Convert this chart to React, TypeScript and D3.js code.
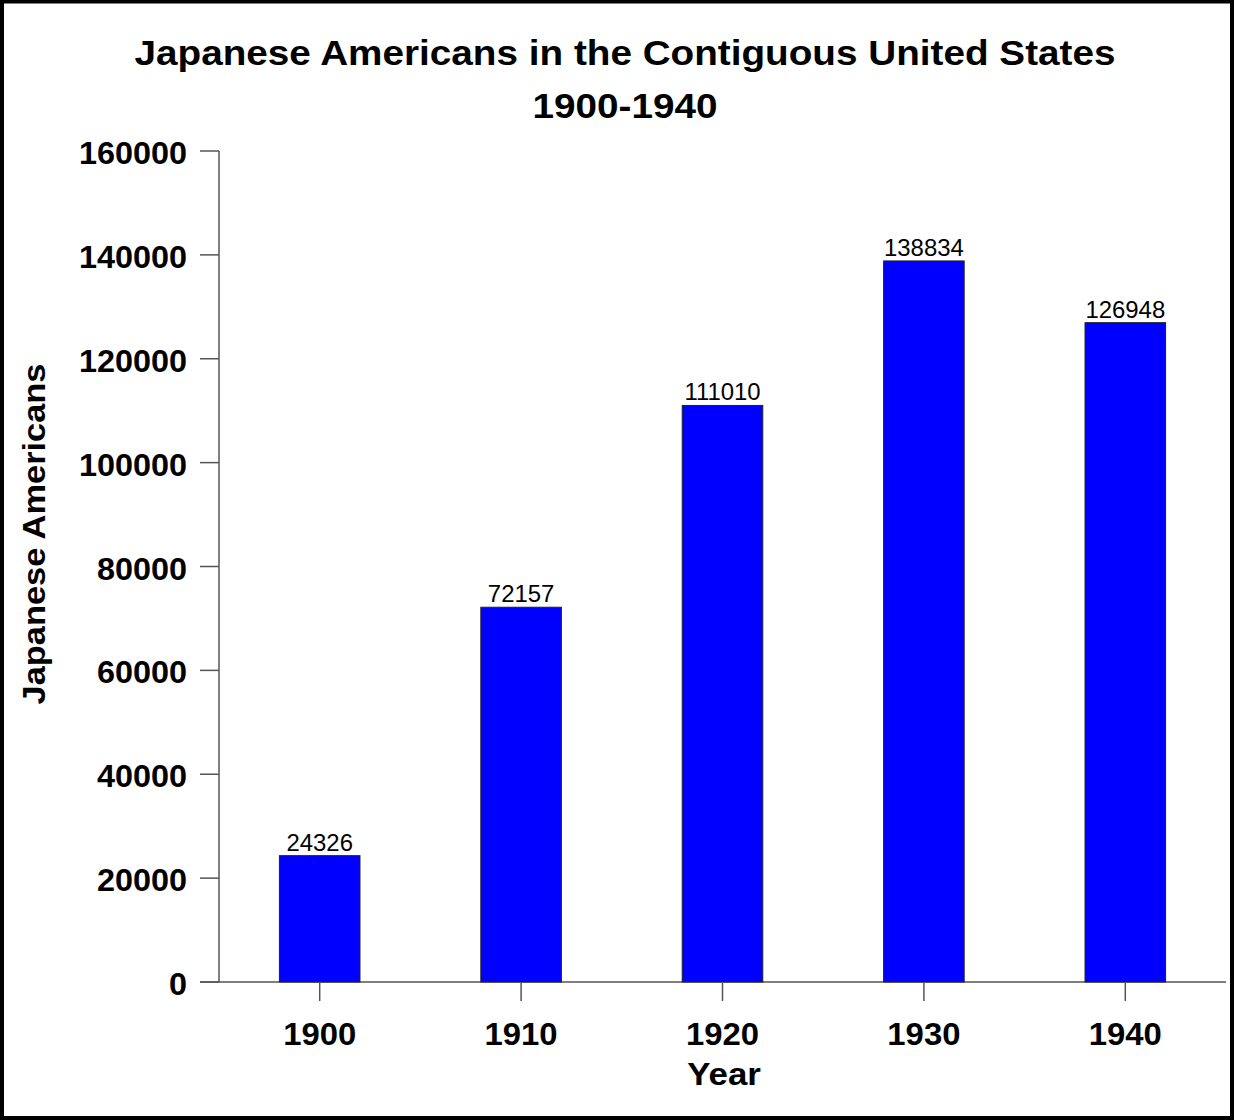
import React from "react";
import * as d3 from "d3";

const years = ["1900", "1910", "1920", "1930", "1940"];
const population = [24326, 72157, 111010, 138834, 126948];
const yTicks = [0, 20000, 40000, 60000, 80000, 100000, 120000, 140000, 160000];
const titleLines = ["Japanese Americans in the Contiguous United States", "1900-1940"];

const W = 1234;
const H = 1120;
const left = 219;
const right = 1226;
const top = 151;
const bottom = 982;
const FONT = "Liberation Sans, Arial, Helvetica, sans-serif";

type STextProps = {
  x: number;
  y: number;
  sx?: number;
  rotate?: number;
  anchor?: "start" | "middle" | "end";
  size: number;
  bold?: boolean;
  children: React.ReactNode;
};

function SText({ x, y, sx = 1, rotate = 0, anchor = "middle", size, bold, children }: STextProps) {
  return (
    <text
      transform={`translate(${x},${y}) rotate(${rotate}) scale(${sx},1)`}
      textAnchor={anchor}
      fontSize={size}
      fontWeight={bold ? "bold" : "normal"}
      fill="#000"
    >
      {children}
    </text>
  );
}

export default function App() {
  const x = d3.scaleBand<string>().domain(years).range([left, right]).paddingInner(0.6).paddingOuter(0.3);
  const y = d3.scaleLinear().domain([0, 160000]).range([bottom, top]);
  const axisColor = "#555";

  return (
    <svg width={W} height={H} style={{ position: "absolute", left: 0, top: 0, background: "#fff" }} fontFamily={FONT}>
      <rect x={0} y={0} width={W} height={H} fill="#fff" />
      <rect x={2} y={1.5} width={W - 4} height={H - 3.5} fill="none" stroke="#000" strokeWidth={4} />
      {titleLines.map((t, i) => (
        <SText key={i} x={625} y={65 + i * 53} size={36} sx={1.075} bold>
          {t}
        </SText>
      ))}
      {/* y axis */}
      <line x1={left} x2={left} y1={top} y2={bottom} stroke={axisColor} strokeWidth={1.5} />
      {yTicks.map((t) => (
        <g key={t}>
          <line x1={200} x2={left} y1={y(t)} y2={y(t)} stroke={axisColor} strokeWidth={1.5} />
          <SText x={187} y={y(t) + 13} anchor="end" size={31} sx={1.045} bold>
            {t}
          </SText>
        </g>
      ))}
      {/* x axis */}
      <line x1={200} x2={right} y1={bottom} y2={bottom} stroke={axisColor} strokeWidth={1.5} />
      {years.map((yr, i) => {
        const cx = (x(yr) as number) + x.bandwidth() / 2;
        const v = population[i];
        return (
          <g key={yr}>
            <rect x={x(yr)} y={y(v)} width={x.bandwidth()} height={bottom - y(v)} fill="#0000ff" stroke="#222" strokeWidth={1} />
            <line x1={cx} x2={cx} y1={bottom} y2={1001} stroke={axisColor} strokeWidth={1.5} />
            <SText x={cx} y={1045} size={31} sx={1.06} bold>
              {yr}
            </SText>
            <SText x={cx} y={y(v) - 5} size={23} sx={1.04}>
              {v}
            </SText>
          </g>
        );
      })}
      <SText x={724} y={1085} size={32} sx={1.09} bold>
        Year
      </SText>
      <SText x={45} y={534} rotate={-90} size={31} sx={1.11} bold>
        Japanese Americans
      </SText>
    </svg>
  );
}
